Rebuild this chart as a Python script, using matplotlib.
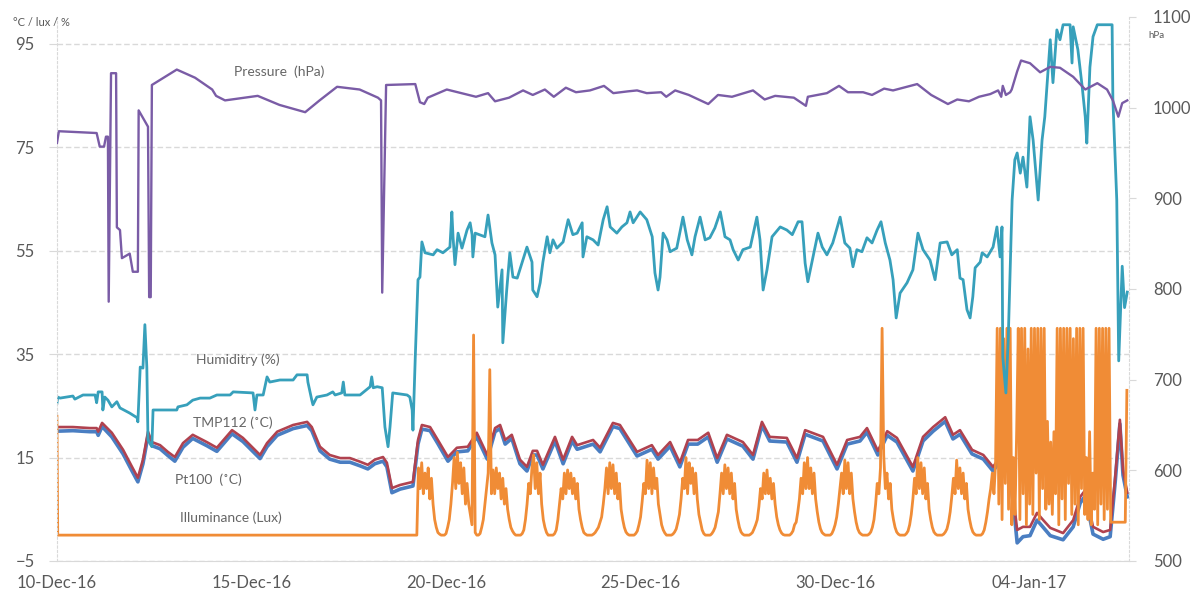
import numpy as np
import matplotlib
matplotlib.use("Agg")
import matplotlib.pyplot as plt

plt.rcParams["font.family"] = ["Lato", "DejaVu Sans"]

# x axis: days since 10-Dec-16 00:00
TICK_DAYS = [0, 5, 10, 15, 20, 25]
TICK_LABELS = ["10-Dec-16", "15-Dec-16", "20-Dec-16", "25-Dec-16", "30-Dec-16", "04-Jan-17"]
LEFT_TICKS = [-5, 15, 35, 55, 75, 95]
RIGHT_TICKS = [500, 600, 700, 800, 900, 1000, 1100]

# Pressure (hPa, right axis)
PRESS_DAYS = [
    0.00, 0.05, 1.02, 1.10, 1.21, 1.26, 1.31, 1.33, 1.39, 1.52,
    1.54, 1.62, 1.67, 1.87, 1.95, 2.08, 2.10, 2.34, 2.37, 2.41,
    2.44, 3.08, 3.55, 3.99, 4.09, 4.32, 5.16, 5.72, 6.38, 6.75,
    7.20, 7.78, 8.25, 8.33, 8.36, 8.46, 9.21, 9.33, 9.44, 9.53,
    10.02, 10.77, 11.08, 11.26, 11.62, 11.98, 12.23, 12.54, 12.77, 13.08,
    13.34, 13.70, 14.06, 14.30, 14.68, 14.91, 15.16, 15.53, 15.66, 15.89,
    16.24, 16.74, 16.99, 17.35, 17.89, 18.19, 18.46, 18.94, 19.25, 19.30,
    19.79, 20.10, 20.33, 20.72, 20.95, 21.26, 21.49, 22.11, 22.47, 22.90,
    23.14, 23.44, 23.70, 23.99, 24.19, 24.27, 24.31, 24.39, 24.50, 24.54,
    24.68, 24.78, 25.01, 25.27, 25.53, 25.78, 26.12, 26.43, 26.74, 26.99,
    27.14, 27.28, 27.38, 27.51,
]
PRESS_HPA = [
    961, 974, 972, 957, 957, 968, 968, 786, 1038, 1038,
    868, 865, 834, 839, 819, 819, 997, 979, 791, 791,
    1025, 1042, 1033, 1020, 1013, 1008, 1013, 1003, 995, 1008,
    1023, 1020, 1011, 1008, 796, 1025, 1026, 1006, 1004, 1011,
    1020, 1012, 1016, 1007, 1011, 1019, 1014, 1020, 1012, 1022,
    1017, 1019, 1024, 1016, 1018, 1019, 1016, 1017, 1012, 1019,
    1014, 1004, 1014, 1012, 1019, 1009, 1013, 1011, 1002, 1012,
    1016, 1024, 1017, 1017, 1014, 1021, 1019, 1026, 1014, 1004,
    1009, 1007, 1012, 1015, 1019, 1012, 1024, 1014, 1017, 1020,
    1040, 1052, 1049, 1039, 1045, 1044, 1034, 1020, 1027, 1020,
    1008, 990, 1005, 1008,
]

# Humidity (%)
HUM_DAYS = [
    0.00, 0.02, 0.08, 0.41, 0.46, 0.67, 0.98, 1.02, 1.06, 1.16,
    1.18, 1.23, 1.31, 1.41, 1.54, 1.62, 1.87, 2.06, 2.08, 2.14,
    2.21, 2.26, 2.31, 2.34, 2.44, 2.47, 3.08, 3.11, 3.34, 3.49,
    3.68, 3.93, 4.11, 4.45, 4.53, 5.04, 5.09, 5.14, 5.30, 5.40,
    5.47, 5.73, 6.07, 6.17, 6.43, 6.45, 6.55, 6.58, 6.68, 6.94,
    7.09, 7.15, 7.32, 7.36, 7.40, 7.79, 8.05, 8.09, 8.13, 8.23,
    8.36, 8.43, 8.51, 8.56, 8.63, 9.00, 9.07, 9.13, 9.15, 9.21,
    9.28, 9.33, 9.38, 9.46, 9.67, 9.77, 9.92, 10.10, 10.15, 10.18,
    10.23, 10.31, 10.41, 10.54, 10.62, 10.67, 10.69, 10.75, 11.00, 11.08,
    11.18, 11.26, 11.33, 11.44, 11.46, 11.56, 11.64, 11.72, 11.83, 12.08,
    12.21, 12.23, 12.34, 12.42, 12.49, 12.60, 12.67, 12.75, 12.85, 13.01,
    13.14, 13.26, 13.37, 13.50, 13.52, 13.62, 13.78, 13.91, 14.04, 14.14,
    14.22, 14.39, 14.52, 14.65, 14.73, 14.81, 14.99, 15.16, 15.30, 15.37,
    15.45, 15.50, 15.58, 15.68, 15.76, 15.93, 16.09, 16.20, 16.32, 16.40,
    16.53, 16.66, 16.78, 16.91, 17.05, 17.17, 17.30, 17.38, 17.51, 17.63,
    17.82, 17.99, 18.07, 18.15, 18.25, 18.38, 18.59, 18.76, 18.90, 19.05,
    19.15, 19.23, 19.30, 19.40, 19.56, 19.67, 19.79, 19.94, 20.13, 20.25,
    20.38, 20.46, 20.56, 20.69, 20.82, 20.95, 21.08, 21.18, 21.29, 21.41,
    21.49, 21.57, 21.67, 21.85, 22.00, 22.13, 22.26, 22.44, 22.57, 22.70,
    22.88, 23.00, 23.14, 23.21, 23.29, 23.39, 23.47, 23.54, 23.60, 23.73,
    23.78, 23.91, 24.06, 24.16, 24.24, 24.29, 24.31, 24.39, 24.45, 24.55,
    24.62, 24.68, 24.76, 24.83, 24.93, 25.01, 25.09, 25.22, 25.32, 25.39,
    25.53, 25.60, 25.70, 25.78, 25.86, 26.04, 26.09, 26.12, 26.24, 26.35,
    26.43, 26.47, 26.55, 26.63, 26.74, 27.12, 27.14, 27.24, 27.29, 27.38,
    27.44, 27.51,
]
HUM_PCT = [
    25.5, 26.7, 26.5, 26.9, 26.3, 27.1, 27.1, 25.6, 27.7, 27.7,
    24.2, 26.7, 26.1, 24.8, 25.8, 24.6, 23.6, 22.7, 21.9, 32.5,
    32.3, 40.7, 32.5, 18.4, 17.1, 24.2, 24.2, 24.8, 25.2, 26.1,
    26.5, 26.5, 27.1, 27.1, 27.7, 27.5, 24.2, 27.1, 27.1, 30.6,
    29.6, 30.0, 30.0, 31.0, 31.0, 29.6, 26.1, 25.2, 26.7, 27.1,
    27.7, 27.1, 27.5, 29.6, 27.1, 27.1, 28.7, 30.6, 28.5, 28.7,
    28.5, 20.9, 17.1, 20.9, 27.5, 27.1, 26.7, 24.2, 20.3, 34.5,
    49.4, 49.9, 56.7, 54.6, 54.2, 55.2, 54.6, 55.7, 62.5, 57.7,
    52.3, 58.4, 55.5, 59.0, 60.4, 58.1, 53.8, 58.4, 57.7, 61.9,
    56.5, 54.2, 44.1, 51.3, 37.2, 47.4, 54.6, 49.9, 49.7, 55.7,
    52.8, 47.4, 46.1, 48.8, 52.8, 57.7, 54.6, 57.1, 55.5, 56.7,
    61.0, 58.1, 58.4, 60.4, 53.8, 57.7, 57.1, 56.1, 61.0, 63.5,
    59.6, 58.4, 59.6, 60.4, 62.5, 60.4, 62.5, 61.0, 57.7, 50.7,
    47.4, 49.9, 58.4, 57.1, 54.8, 55.5, 61.5, 57.1, 54.2, 57.7,
    61.5, 57.1, 57.5, 59.4, 62.5, 57.7, 57.1, 55.2, 53.2, 55.2,
    55.7, 61.5, 57.1, 47.4, 51.3, 57.7, 59.6, 59.0, 58.1, 60.6,
    60.6, 52.6, 49.0, 52.6, 58.4, 55.7, 54.2, 56.5, 61.5, 56.5,
    55.5, 51.9, 55.2, 54.8, 57.5, 56.5, 59.0, 60.6, 56.5, 53.2,
    49.4, 42.0, 46.8, 48.8, 51.3, 58.4, 55.2, 53.2, 49.4, 56.5,
    56.7, 54.2, 55.2, 49.7, 49.4, 43.6, 42.0, 46.1, 51.7, 52.8,
    54.6, 53.8, 55.7, 59.6, 53.8, 59.6, 34.5, 27.5, 37.8, 64.8,
    72.6, 73.9, 70.0, 73.1, 67.3, 80.9, 76.4, 64.8, 76.4, 80.9,
    95.8, 87.5, 97.7, 95.8, 98.7, 98.7, 91.3, 98.3, 93.9, 86.8,
    80.9, 75.8, 90.5, 96.4, 98.7, 98.7, 84.3, 64.8, 33.7, 52.0,
    44.0, 47.0,
]

# Temperatures (°C)
TEMP_DAYS = [
    0.00, 0.41, 0.85, 1.02, 1.06, 1.16, 1.41, 1.70, 1.93, 2.08,
    2.21, 2.34, 2.44, 2.65, 2.85, 3.03, 3.24, 3.49, 3.85, 4.11,
    4.50, 4.78, 5.22, 5.40, 5.66, 6.07, 6.43, 6.55, 6.76, 7.01,
    7.28, 7.53, 7.79, 7.99, 8.17, 8.38, 8.48, 8.61, 8.82, 9.15,
    9.28, 9.38, 9.59, 9.79, 10.05, 10.28, 10.56, 10.79, 11.06, 11.26,
    11.39, 11.52, 11.69, 11.90, 12.08, 12.23, 12.34, 12.49, 12.80, 13.01,
    13.24, 13.37, 13.78, 13.96, 14.29, 14.47, 14.91, 15.29, 15.45, 15.76,
    16.01, 16.22, 16.47, 16.74, 16.97, 17.22, 17.63, 17.89, 18.12, 18.32,
    18.76, 19.02, 19.23, 19.69, 20.05, 20.31, 20.64, 20.82, 21.10, 21.34,
    21.59, 22.00, 22.26, 22.52, 22.83, 23.03, 23.21, 23.52, 23.81, 24.06,
    24.24, 24.42, 24.58, 24.68, 24.83, 25.01, 25.19, 25.35, 25.53, 25.86,
    26.12, 26.30, 26.43, 26.63, 26.89, 27.07, 27.20, 27.32, 27.40, 27.51,
]
TMP112_C = [
    20.9, 20.9, 20.7, 20.7, 20.0, 21.7, 19.8, 16.5, 13.2, 11.1,
    14.6, 20.0, 18.0, 17.4, 16.1, 15.1, 17.8, 19.4, 18.0, 16.9,
    20.3, 18.8, 15.5, 17.8, 20.0, 21.3, 21.9, 20.9, 17.1, 15.5,
    14.9, 14.9, 14.2, 13.6, 14.6, 15.1, 14.0, 9.1, 9.7, 10.3,
    18.4, 21.3, 20.9, 18.4, 15.1, 16.9, 17.1, 19.8, 15.5, 20.7,
    21.3, 18.4, 19.4, 14.6, 13.2, 16.3, 16.3, 13.6, 19.0, 14.6,
    19.0, 17.4, 18.4, 16.9, 21.7, 21.3, 16.1, 17.4, 15.5, 18.0,
    14.0, 18.4, 18.4, 19.8, 14.9, 19.4, 18.0, 15.5, 21.9, 19.0,
    18.8, 14.9, 20.3, 19.0, 13.6, 18.4, 19.0, 20.7, 16.3, 20.1,
    18.8, 13.2, 19.0, 20.9, 22.8, 19.4, 20.3, 16.5, 15.5, 13.2,
    15.1, 16.5, 7.4, 1.0, 1.6, 1.6, 4.3, 2.9, 1.4, 0.4,
    2.9, 7.4, 8.7, 1.6, 0.6, 1.0, 11.3, 22.3, 12.6, 8.2,
]
PT100_C = [
    20.1, 20.2, 20.0, 20.0, 19.3, 21.0, 19.0, 15.7, 12.4, 10.3,
    13.8, 19.2, 17.3, 16.7, 15.4, 14.3, 17.0, 18.7, 17.3, 16.2,
    19.6, 18.1, 14.8, 17.1, 19.3, 20.6, 21.2, 20.2, 16.3, 14.7,
    14.1, 14.1, 13.4, 12.8, 13.8, 14.3, 13.2, 8.2, 8.9, 9.5,
    17.6, 20.5, 20.2, 17.7, 14.3, 16.1, 16.3, 19.0, 14.7, 20.0,
    20.6, 17.6, 18.7, 13.8, 12.4, 15.5, 15.5, 12.8, 18.2, 13.8,
    18.2, 16.6, 17.6, 16.1, 21.0, 20.6, 15.3, 16.6, 14.7, 17.2,
    13.2, 17.6, 17.6, 19.0, 14.1, 18.6, 17.2, 14.7, 21.2, 18.2,
    18.0, 14.1, 19.5, 18.2, 12.8, 17.6, 18.2, 19.9, 15.5, 19.3,
    18.0, 12.4, 18.2, 20.1, 22.0, 18.6, 19.5, 15.7, 14.7, 12.4,
    14.3, 15.7, 6.2, -1.5, -0.3, -0.1, 2.9, 1.5, -0.1, -0.9,
    1.6, 6.2, 7.6, 0.2, -0.8, -0.3, 10.3, 21.5, 11.6, 7.4,
]

# Illuminance (lux): sensor idle at first, then hourly samples from day 9
ILLUM_IDLE_DAYS = [0.00, 0.02]
ILLUM_IDLE_LUX = [23.0, 0.0]
ILLUM_START_DAY = 9
ILLUM_LUX = [
    0, 0, 0, 0, 0, 0, 0, 13, 9, 14, 8, 12, 9, 13, 7, 11, 6, 3, 1.5, 0.5, 0.2, 0, 0, 0,
    0.3, 1.5, 3, 6, 10, 15, 9, 16, 10, 14, 8, 13, 6, 10, 6, 4, 2, 38.7, 0.5, 0, 0, 0.3, 1.5, 3,
    6, 9, 12, 32, 8, 12.6, 8, 13, 9, 12, 7, 11, 6, 9, 5, 3, 1.5, 0.8, 0.3, 0, 0, 0, 0, 0.3,
    1, 3, 6, 10, 8, 13, 15.5, 9, 14, 8, 12, 6, 3, 1.5, 0.5, 0, 0, 0, 0, 0.3, 1, 3, 6, 9,
    7, 12, 8, 12.6, 9, 12, 8, 11, 7, 10, 5, 3, 1.5, 0.5, 0.2, 0, 0, 0, 0, 0.2, 0.5, 1, 1.5, 2.5,
    3.5, 6, 9, 13, 8, 14, 9, 13.6, 8, 12, 7, 10, 5, 3, 1.5, 0.6, 0.2, 0, 0, 0, 0, 0.3, 0.8, 2,
    3.5, 6.5, 10, 8, 14.5, 9, 14, 8, 13, 9, 11, 6, 4, 2, 1, 0.4, 0, 0, 0, 0, 0.2, 0.6, 1.2, 2.5,
    4, 7, 11, 9, 15, 8, 14, 10, 13, 8, 12, 7, 4, 2.5, 1, 0.3, 0, 0, 0, 0, 0.3, 0.8, 1.5, 3,
    4.5, 8, 12, 8, 13.6, 9, 13, 8, 12, 7, 10, 5, 3, 1.5, 0.6, 0.2, 0, 0, 0, 0, 0.2, 0.5, 1.2, 2,
    3, 5.5, 9, 7, 12, 8, 12.6, 8, 11, 7, 10, 6, 3.5, 2, 1, 0.4, 0.1, 0, 0, 0, 0, 0.3, 0.8, 2,
    2.5, 4.5, 7, 11, 8, 14, 9, 15, 9, 13, 8, 12, 7, 4.5, 2.5, 1.2, 0.5, 0.2, 0, 0, 0, 0, 0.3, 1,
    2, 3.5, 6, 9, 12, 8, 14.5, 9, 14, 8, 12, 7, 4.5, 2.5, 1.2, 0.5, 0.2, 0, 0, 0, 0, 0.2, 0.6, 1.5,
    3, 6, 10, 8, 13, 40, 15.5, 9, 12, 7, 10, 5, 3, 1.5, 0.6, 0.2, 0, 0, 0, 0, 0.3, 0.8, 2, 4,
    7, 11, 8, 15, 9, 14, 8, 13, 7, 10, 5, 3, 1.5, 0.6, 0.2, 0, 0, 0, 0, 0.2, 0.6, 1.2, 2.5, 4.5,
    7.5, 11, 8, 14.5, 9, 13, 8, 12, 7, 10, 5, 3, 1.5, 0.6, 0.2, 0, 0, 0, 0, 0.3, 1, 2.5, 4.5, 7,
    9, 12, 8, 14, 40, 6, 40, 3, 38, 10, 40, 5, 40, 2, 15, 4, 20, 40, 3, 40, 8, 40, 2, 36,
    6, 40, 4, 40, 12, 40, 3, 40, 9, 40, 5, 22, 6, 18, 4, 20, 8, 40, 2, 40, 7, 40, 3, 40,
    10, 40, 4, 38, 6, 40, 2, 40, 9, 40, 4, 15, 3, 20, 2, 12, 5, 40, 2, 40, 6, 40, 3, 40,
    5, 40, 2.5, 2.5, 2.5, 2.5, 2.5, 2.5, 2.5, 2.5, 2.5, 2.5, 28,
]

LABELS = [
    ("Pressure  (hPa)", 5.70, 89.6),
    ("Humiditry (%)", 4.66, 33.9),
    ("TMP112 (˚C)", 4.53, 21.7),
    ("Pt100  (˚C)", 3.88, 10.7),
    ("Illuminance (Lux)", 4.47, 3.3),
]

illum_days = ILLUM_IDLE_DAYS + list(ILLUM_START_DAY + np.arange(len(ILLUM_LUX)) / 24)
illum_lux = ILLUM_IDLE_LUX + ILLUM_LUX

fig = plt.figure(figsize=(11.99, 5.98), dpi=100)
ax = fig.add_axes([0.0475, 0.0619, 0.8943, 0.9097])
ax2 = ax.twinx()

ax.plot(TEMP_DAYS, PT100_C, color="#4A7EC2", lw=2.6, solid_joinstyle="round")
ax.plot(TEMP_DAYS, TMP112_C, color="#B0424F", lw=1.9, solid_joinstyle="round")
ax.plot(illum_days, illum_lux, color="#F08C36", lw=2.0)
ax.plot(HUM_DAYS, HUM_PCT, color="#37A0BB", lw=2.0)
ax2.plot(PRESS_DAYS, PRESS_HPA, color="#7A5CA6", lw=1.7)

ax.set_xlim(0, 27.56)
ax.set_ylim(-5, 100.2)
ax2.set_ylim(500, 1100)

ax.set_xticks(TICK_DAYS)
ax.set_xticklabels(TICK_LABELS)
ax.set_yticks(LEFT_TICKS)
ax2.set_yticks(RIGHT_TICKS)

grey = "#D9D9D9"
txt = "#595959"
ax.grid(axis="y", color=grey, linestyle=(0, (4, 2)), linewidth=1)
ax.set_axisbelow(True)
for a in (ax, ax2):
    a.spines["top"].set_visible(False)
ax2.spines["left"].set_visible(False)
ax2.spines["bottom"].set_visible(False)
ax.spines["right"].set_visible(False)
ax.spines["left"].set_color(grey)
ax.spines["left"].set_linestyle((0, (2, 2)))
ax.spines["bottom"].set_color(grey)
ax2.spines["right"].set_color(grey)
ax2.spines["right"].set_linestyle((0, (2, 2)))

ax.tick_params(axis="y", length=6, color=grey, labelcolor=txt, labelsize=12, pad=10)
ax.tick_params(axis="x", length=0, labelcolor=txt, labelsize=12, pad=10)
ax2.tick_params(axis="y", length=5, color=grey, labelcolor=txt, labelsize=12, pad=12)

for text, d, v in LABELS:
    ax.text(d, v, text, ha="center", va="center", fontsize=10, color="#666666")

fig.text(13 / 1199, 1 - 22 / 598, "°C / lux / %", fontsize=8, color=txt, va="center")
fig.text(1148 / 1199, 1 - 36 / 598, "hPa", fontsize=7, color=txt, va="center")

fig.savefig("out.png", dpi=100)
